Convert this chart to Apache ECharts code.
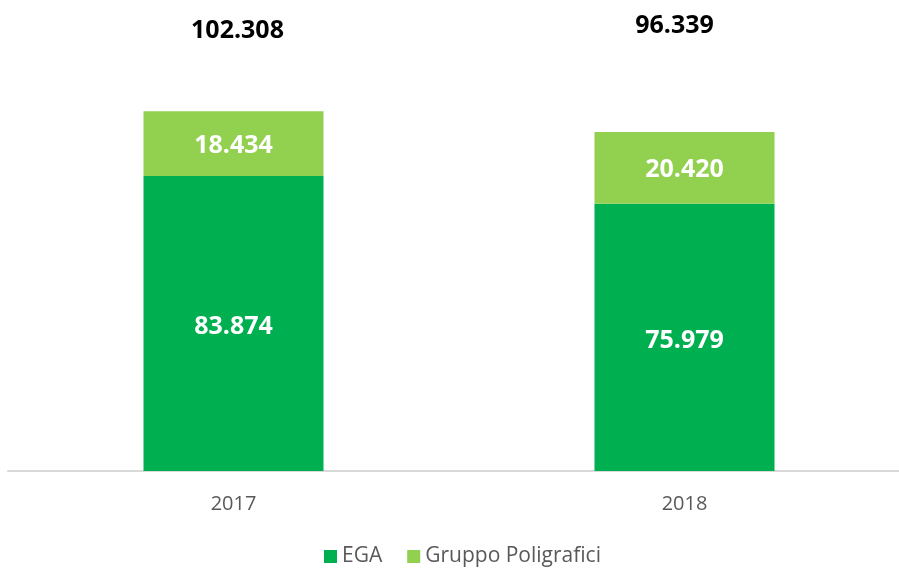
<!DOCTYPE html>
<html>
<head>
<meta charset="utf-8">
<script src="https://cdn.jsdelivr.net/npm/echarts@6/dist/echarts.min.js"></script>
<style>
  html, body { margin: 0; padding: 0; background: #fff; }
  #chart { width: 899px; height: 568px; }
</style>
</head>
<body>
<div id="chart"></div>
<script>
const years = ["2017", "2018"];
const ega = [83.874, 75.979];
const poligrafici = [18.434, 20.420];
const totals = [102.308, 96.339];

// posizione delle etichette dei totali (spostate a mano come nel grafico originale)
const totalOffsets = [[4, -68], [-10, -94]];

const chart = echarts.init(document.getElementById("chart"));

const fmt = (v) => v.toFixed(3);

const option = {
  backgroundColor: "#ffffff",
  textStyle: { fontFamily: "Open Sans" },
  grid: { left: 8, width: 902, top: 49, height: 422, containLabel: false, outerBoundsMode: "none" },
  legend: {
    data: ["EGA", "Gruppo Poligrafici"],
    left: 319,
    top: 541,
    itemWidth: 13,
    itemHeight: 13,
    itemGap: 25,
    icon: "rect",
    textStyle: { color: "#595959", fontSize: 21, fontFamily: "Open Sans" }
  },
  xAxis: {
    type: "category",
    data: years,
    axisLine: { lineStyle: { color: "#d9d9d9", width: 2 } },
    axisTick: { show: false },
    axisLabel: { color: "#595959", fontSize: 20, margin: 23, fontFamily: "Open Sans" }
  },
  yAxis: {
    type: "value",
    min: 0,
    max: 120,
    show: false,
    splitLine: { show: false }
  },
  series: [
    {
      name: "EGA",
      type: "bar",
      stack: "tot",
      barWidth: 180,
      data: ega,
      itemStyle: { color: "#00b050" },
      label: {
        show: true,
        position: "inside",
        offset: [0, 3],
        color: "#ffffff",
        fontSize: 25,
        fontWeight: "bold",
        fontFamily: "Open Sans",
        formatter: (p) => fmt(p.value)
      }
    },
    {
      name: "Gruppo Poligrafici",
      type: "bar",
      stack: "tot",
      barWidth: 180,
      data: poligrafici,
      itemStyle: { color: "#92d050" },
      label: {
        show: true,
        position: "inside",
        offset: [0, 2],
        color: "#ffffff",
        fontSize: 25,
        fontWeight: "bold",
        fontFamily: "Open Sans",
        formatter: (p) => fmt(p.value)
      }
    },
    {
      name: "Totale",
      type: "bar",
      stack: "tot",
      barWidth: 180,
      data: totals.map((t, i) => ({
        value: 0,
        label: { offset: totalOffsets[i] }
      })),
      itemStyle: { color: "transparent" },
      label: {
        show: true,
        position: "top",
        distance: 0,
        color: "#000000",
        fontSize: 25,
        fontWeight: "bold",
        fontFamily: "Open Sans",
        formatter: (p) => fmt(totals[p.dataIndex])
      },
      silent: true
    }
  ]
};

chart.setOption(option);
</script>
</body>
</html>
